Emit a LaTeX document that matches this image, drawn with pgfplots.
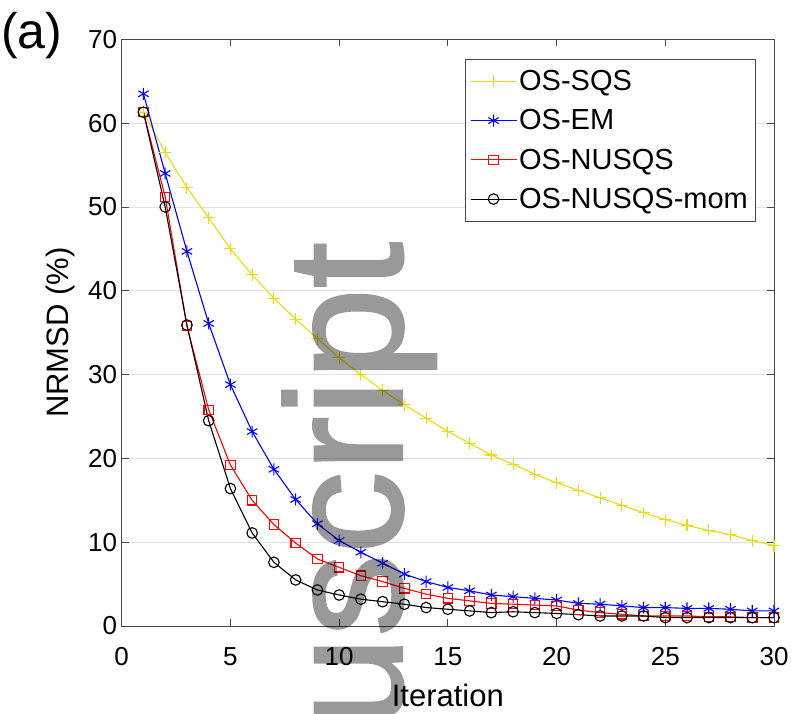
\documentclass[border=0pt]{standalone}
\usepackage{fontspec}
\setmainfont{Liberation Sans}
\newfontface\wmfont{Liberation Sans}[FakeBold=1.5]
\usepackage{pgfplots}
\pgfplotsset{compat=1.18}
\definecolor{myyellow}{RGB}{238,218,10}
\definecolor{axgray}{RGB}{70,70,70}
\definecolor{gridgray}{RGB}{225,225,225}
\begin{document}
\begin{tikzpicture}
\path[use as bounding box] (-121.7pt,-87pt) rectangle (669.3pt,626pt);
\begin{axis}[
  at={(0pt,0pt)}, anchor=south west,
  scale only axis, width=652.3pt, height=586.7pt,
  xmin=0, xmax=30, ymin=0, ymax=70,
  xtick={0,5,...,30}, ytick={0,10,...,70},
  /pgf/number format/assume math mode=true,
  ticklabel style={font=\fontsize{26}{26}\selectfont},
  xticklabel style={yshift=-18pt},
  yticklabel style={xshift=-1pt},
  tick align=inside, major tick length=7pt,
  tick style={axgray, line width=0.8pt},
  axis line style={axgray, line width=0.9pt},
  ymajorgrids, grid style={gridgray, line width=0.8pt},
  xlabel={Iteration}, ylabel={NRMSD (\%)},
  label style={font=\fontsize{31}{31}\selectfont},
  xlabel style={inner sep=0pt, yshift=-14.5pt},
  ylabel style={yshift=6pt},
  legend style={at={(0.971,0.966)}, anchor=north east,
    draw=axgray, font=\fontsize{29}{29}\selectfont,
    inner xsep=5pt, inner ysep=9pt, row sep=13.5pt,
    cells={anchor=west}},
  legend image code/.code={\draw[mark repeat=2,mark phase=2,line width=1.1pt,#1] plot coordinates {(0pt,0pt) (23pt,0pt) (46pt,0pt)};},
  every axis plot/.append style={line width=1.1pt},
]
\addplot[myyellow, mark=+, mark size=6pt] coordinates {
(1,61.3)(2,56.5)(3,52.3)(4,48.7)(5,45.0)(6,41.9)(7,39.1)(8,36.6)(9,34.3)(10,32.0)
(11,30.0)(12,28.1)(13,26.4)(14,24.8)(15,23.2)(16,21.8)(17,20.4)(18,19.3)(19,18.1)(20,17.1)
(21,16.2)(22,15.3)(23,14.4)(24,13.5)(25,12.7)(26,12.0)(27,11.4)(28,10.9)(29,10.2)(30,9.6)};
\addlegendentry{OS-SQS}
\addplot[blue, mark=asterisk, mark size=6pt] coordinates {
(1,63.5)(2,54.0)(3,44.7)(4,36.1)(5,28.8)(6,23.2)(7,18.7)(8,15.1)(9,12.2)(10,10.2)
(11,8.8)(12,7.5)(13,6.2)(14,5.3)(15,4.6)(16,4.2)(17,3.7)(18,3.5)(19,3.3)(20,3.1)
(21,2.7)(22,2.6)(23,2.4)(24,2.2)(25,2.2)(26,2.1)(27,2.1)(28,2.0)(29,1.8)(30,1.8)};
\addlegendentry{OS-EM}
\addplot[red, mark=square, mark size=4.7pt] coordinates {
(1,61.3)(2,51.2)(3,35.8)(4,25.8)(5,19.2)(6,15.0)(7,12.1)(8,9.9)(9,8.0)(10,7.0)
(11,6.0)(12,5.3)(13,4.5)(14,3.8)(15,3.3)(16,3.0)(17,2.7)(18,2.6)(19,2.5)(20,2.4)
(21,1.9)(22,1.6)(23,1.4)(24,1.2)(25,1.2)(26,1.2)(27,1.1)(28,1.1)(29,1.0)(30,1.0)};
\addlegendentry{OS-NUSQS}
\addplot[black, mark=o, mark size=5.3pt] coordinates {
(1,61.3)(2,50.0)(3,35.9)(4,24.5)(5,16.4)(6,11.1)(7,7.6)(8,5.5)(9,4.3)(10,3.7)
(11,3.2)(12,2.9)(13,2.6)(14,2.2)(15,2.0)(16,1.8)(17,1.6)(18,1.7)(19,1.6)(20,1.5)
(21,1.35)(22,1.2)(23,1.2)(24,1.2)(25,1.0)(26,1.0)(27,1.0)(28,1.0)(29,1.0)(30,1.0)};
\addlegendentry{OS-NUSQS-mom}
\end{axis}
\node[anchor=base west, font=\fontsize{50}{50}\selectfont, inner sep=0pt] at (-120.7pt,577pt) {(a)};
\begin{scope}[transparency group, opacity=0.4]
\node[rotate=90, anchor=base east, inner sep=0pt, text=black, font=\wmfont\fontsize{165}{165}\selectfont] at (280.3pt,384pt) {uscript};
\end{scope}
\end{tikzpicture}
\end{document}
